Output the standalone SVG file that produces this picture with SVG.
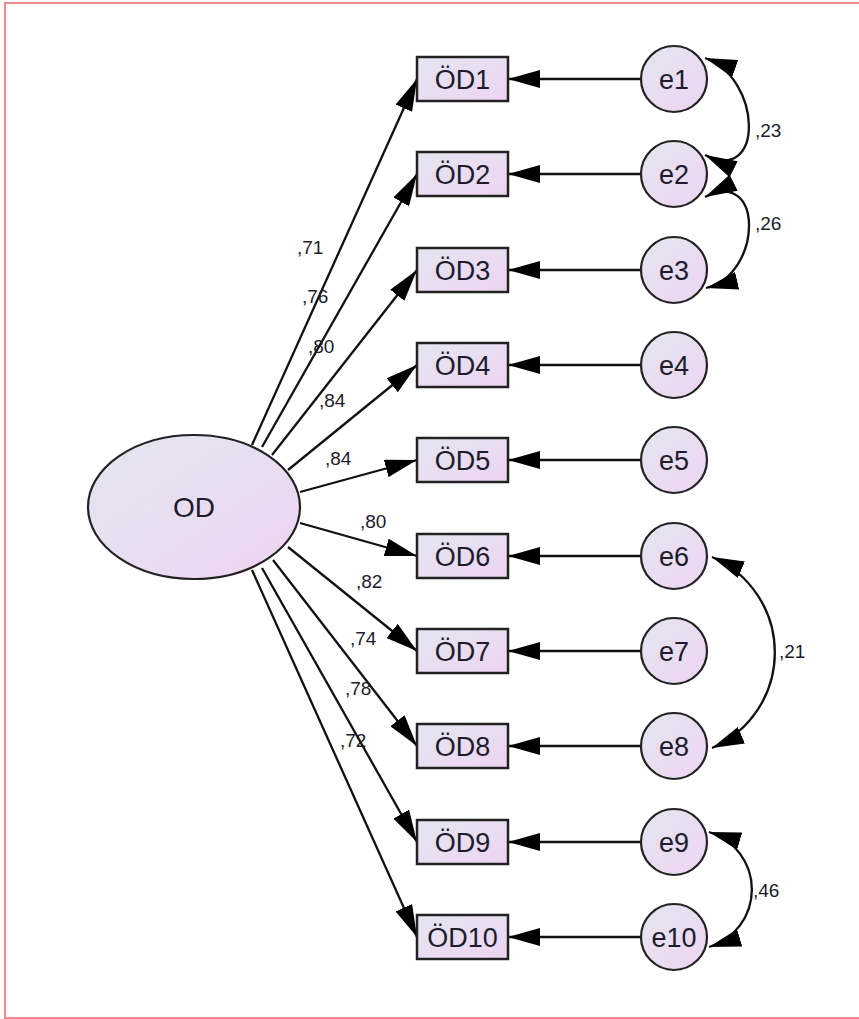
<svg xmlns="http://www.w3.org/2000/svg" width="859" height="1019" viewBox="0 0 859 1019">
<style>
.box{fill:url(#g);stroke:#222;stroke-width:2.5}
.circ{fill:url(#g);stroke:#222;stroke-width:2.2}
.lab{font-family:"Liberation Sans",Arial,sans-serif;font-size:27px;fill:#1c1c2c;text-anchor:middle}
.num{font-family:"Liberation Sans",Arial,sans-serif;font-size:19px;fill:#1c1c2c}
.ln{stroke:#111;stroke-width:2.3;fill:none}
.arr{marker-end:url(#ah)}
.cov{marker-start:url(#ah);marker-end:url(#ah)}
</style>
<defs>
<linearGradient id="g" x1="0" y1="0" x2="1" y2="1">
<stop offset="0" stop-color="#e4e6f0"/>
<stop offset="1" stop-color="#eed4f2"/>
</linearGradient>
<marker id="ah" viewBox="0 -9 32 18" refX="32" refY="0" markerWidth="32" markerHeight="18" markerUnits="userSpaceOnUse" orient="auto-start-reverse">
<path d="M0,-9 L32,0 L0,9 Z" fill="#000"/>
</marker>
</defs>
<rect x="5" y="3" width="900" height="1015" fill="#fff" stroke="#f08c8c" stroke-width="2"/>

<g id="connectors">
<line class="ln arr" x1="252" y1="445" x2="417" y2="79"/>
<line class="ln arr" x1="262" y1="447" x2="417" y2="174"/>
<line class="ln arr" x1="272" y1="455" x2="417" y2="270"/>
<line class="ln arr" x1="288" y1="470" x2="417" y2="365"/>
<line class="ln arr" x1="300" y1="492" x2="417" y2="460"/>
<line class="ln arr" x1="300" y1="523" x2="417" y2="556"/>
<line class="ln arr" x1="288" y1="547" x2="417" y2="651"/>
<line class="ln arr" x1="273" y1="560" x2="417" y2="746"/>
<line class="ln arr" x1="262" y1="568" x2="417" y2="842"/>
<line class="ln arr" x1="252" y1="570" x2="417" y2="937"/>

<line class="ln arr" x1="641" y1="79" x2="508" y2="79"/>
<line class="ln arr" x1="641" y1="174" x2="508" y2="174"/>
<line class="ln arr" x1="641" y1="270" x2="508" y2="270"/>
<line class="ln arr" x1="641" y1="365" x2="508" y2="365"/>
<line class="ln arr" x1="641" y1="460" x2="508" y2="460"/>
<line class="ln arr" x1="641" y1="556" x2="508" y2="556"/>
<line class="ln arr" x1="641" y1="651" x2="508" y2="651"/>
<line class="ln arr" x1="641" y1="746" x2="508" y2="746"/>
<line class="ln arr" x1="641" y1="842" x2="508" y2="842"/>
<line class="ln arr" x1="641" y1="937" x2="508" y2="937"/>

<path class="ln cov" d="M705,58 C762,78 765,185 705,155"/>
<path class="ln cov" d="M705,197 C765,167 762,275 706,288"/>
<path class="ln cov" d="M712,557 A104,104 0 0 1 712,748"/>
<path class="ln cov" d="M709,832 A60,60 0 0 1 709,947"/>

<text class="num" x="297" y="254">,71</text>
<text class="num" x="302" y="303">,76</text>
<text class="num" x="308" y="353">,80</text>
<text class="num" x="319" y="407">,84</text>
<text class="num" x="325" y="465">,84</text>
<text class="num" x="360" y="528">,80</text>
<text class="num" x="356" y="588">,82</text>
<text class="num" x="350" y="645">,74</text>
<text class="num" x="345" y="695">,78</text>
<text class="num" x="340" y="747">,72</text>
<text class="num" x="755" y="137">,23</text>
<text class="num" x="755" y="230">,26</text>
<text class="num" x="779" y="658">,21</text>
<text class="num" x="753" y="897">,46</text>
</g>

<g id="OD">
<ellipse class="circ" cx="194" cy="507" rx="106" ry="72"/>
<text class="lab" x="194" y="517" style="font-size:28px">OD</text>
</g>

<g id="OD1"><rect class="box" x="417" y="57" width="91" height="44"/><text class="lab" x="462.5" y="88.5">ÖD1</text></g>
<g id="OD2"><rect class="box" x="417" y="152" width="91" height="44"/><text class="lab" x="462.5" y="183.5">ÖD2</text></g>
<g id="OD3"><rect class="box" x="417" y="248" width="91" height="44"/><text class="lab" x="462.5" y="279.5">ÖD3</text></g>
<g id="OD4"><rect class="box" x="417" y="343" width="91" height="44"/><text class="lab" x="462.5" y="374.5">ÖD4</text></g>
<g id="OD5"><rect class="box" x="417" y="438" width="91" height="44"/><text class="lab" x="462.5" y="469.5">ÖD5</text></g>
<g id="OD6"><rect class="box" x="417" y="534" width="91" height="44"/><text class="lab" x="462.5" y="565.5">ÖD6</text></g>
<g id="OD7"><rect class="box" x="417" y="629" width="91" height="44"/><text class="lab" x="462.5" y="660.5">ÖD7</text></g>
<g id="OD8"><rect class="box" x="417" y="724" width="91" height="44"/><text class="lab" x="462.5" y="755.5">ÖD8</text></g>
<g id="OD9"><rect class="box" x="417" y="820" width="91" height="44"/><text class="lab" x="462.5" y="851.5">ÖD9</text></g>
<g id="OD10"><rect class="box" x="417" y="915" width="91" height="44"/><text class="lab" x="462.5" y="946.5">ÖD10</text></g>

<g id="e1"><circle class="circ" cx="674" cy="79" r="33"/><text class="lab" x="674" y="88.5">e1</text></g>
<g id="e2"><circle class="circ" cx="674" cy="174" r="33"/><text class="lab" x="674" y="183.5">e2</text></g>
<g id="e3"><circle class="circ" cx="674" cy="270" r="33"/><text class="lab" x="674" y="279.5">e3</text></g>
<g id="e4"><circle class="circ" cx="674" cy="365" r="33"/><text class="lab" x="674" y="374.5">e4</text></g>
<g id="e5"><circle class="circ" cx="674" cy="460" r="33"/><text class="lab" x="674" y="469.5">e5</text></g>
<g id="e6"><circle class="circ" cx="674" cy="556" r="33"/><text class="lab" x="674" y="565.5">e6</text></g>
<g id="e7"><circle class="circ" cx="674" cy="651" r="33"/><text class="lab" x="674" y="660.5">e7</text></g>
<g id="e8"><circle class="circ" cx="674" cy="746" r="33"/><text class="lab" x="674" y="755.5">e8</text></g>
<g id="e9"><circle class="circ" cx="674" cy="842" r="33"/><text class="lab" x="674" y="851.5">e9</text></g>
<g id="e10"><circle class="circ" cx="674" cy="937" r="33"/><text class="lab" x="674" y="946.5">e10</text></g>
</svg>
